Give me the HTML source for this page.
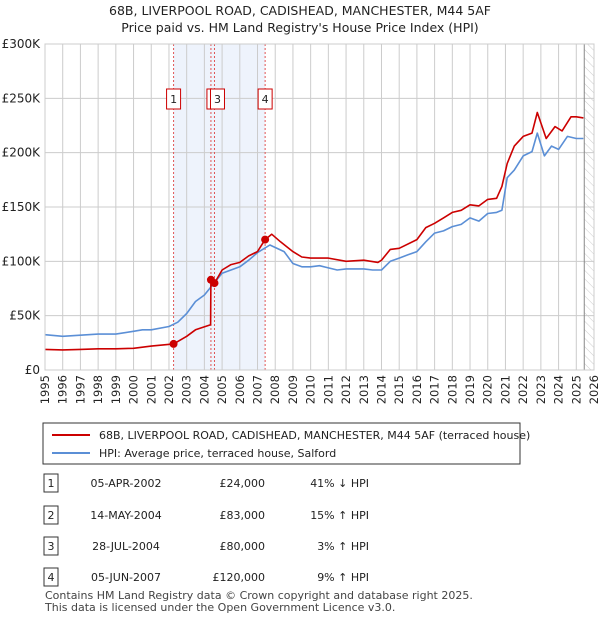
<!DOCTYPE html>
<html><head><meta charset="utf-8"><style>
body{margin:0;background:#fff;font-family:"Liberation Sans","DejaVu Sans",sans-serif;}
svg text{font-family:"DejaVu Sans","Liberation Sans",sans-serif;}
</style></head><body>
<svg id="c" width="600" height="620" xmlns="http://www.w3.org/2000/svg">
<defs><pattern id="hatch" width="6" height="6" patternUnits="userSpaceOnUse" patternTransform="rotate(-45)"><line x1="0" y1="0" x2="0" y2="6" stroke="#ccc" stroke-width="1"/></pattern></defs>
<text x="300" y="15" text-anchor="middle" font-size="12.5" fill="#222">68B, LIVERPOOL ROAD, CADISHEAD, MANCHESTER, M44 5AF</text>
<text x="300" y="32" text-anchor="middle" font-size="12.5" fill="#222">Price paid vs. HM Land Registry's House Price Index (HPI)</text>
<g id="plot"></g>
<g>
<rect x="43" y="423" width="477" height="41" fill="#fff" stroke="#333" stroke-width="1"/>
<line x1="52" y1="435" x2="90" y2="435" stroke="#cc0000" stroke-width="2"/>
<text x="99" y="439" font-size="11" fill="#222">68B, LIVERPOOL ROAD, CADISHEAD, MANCHESTER, M44 5AF (terraced house)</text>
<line x1="52" y1="453" x2="90" y2="453" stroke="#5b8fd6" stroke-width="2"/>
<text x="99" y="457" font-size="11" fill="#222">HPI: Average price, terraced house, Salford</text>
</g>
<g id="table" font-size="11" fill="#222"></g>
<text x="45" y="599" font-size="11" fill="#444">Contains HM Land Registry data © Crown copyright and database right 2025.</text>
<text x="45" y="611" font-size="11" fill="#444">This data is licensed under the Open Government Licence v3.0.</text>
</svg>
<script>
const hpiYears=[1995,1996,1997,1998,1999,2000,2000.5,2001,2002,2002.5,2003,2003.5,2004,2004.4,2005,2005.5,2006,2006.5,2007,2007.7,2008.5,2009,2009.5,2010,2010.5,2011,2011.5,2012,2013,2013.5,2014,2014.5,2015,2015.5,2016,2016.5,2017,2017.5,2018,2018.5,2019,2019.5,2020,2020.5,2020.8,2021.1,2021.5,2022,2022.5,2022.8,2023.2,2023.6,2024,2024.5,2025,2025.4];
const hpiValues=[32.5,31,32,33,33,35.6,37,37,40,44,52,63,69,77,89,92,95,101,108,115,109,98,95,95,96,94,92,93,93,92,92,100,103,106,109,118,126,128,132,134,140,137,144,145,147,177,184,197,201,218,197,206,203,215,213,213];
const redYears=[1995,1996,1997,1998,1999,2000,2001,2002.26,2003,2003.5,2004.35,2004.37,2004.57,2005,2005.5,2006,2006.5,2007,2007.43,2007.8,2008.3,2009,2009.5,2010,2011,2012,2013,2013.8,2014,2014.5,2015,2016,2016.5,2017,2017.5,2018,2018.5,2019,2019.5,2020,2020.5,2020.8,2021.1,2021.5,2022,2022.5,2022.8,2023.3,2023.8,2024.2,2024.7,2025,2025.4];
const redValues=[19,18.5,19,19.5,19.5,20,22,24,31,37,41.7,83,80,92,97,99,105,109,120,125,118,109,104,103,103,100,101,99,101,111,112,120,131,135,140,145,147,152,151,157,158,169,190,206,215,218,237,213,224,220,233,233,232];
const saleIds=["1","2","3","4"];
const saleYears=[2002.26,2004.37,2004.57,2007.43];
const saleValues=[24,83,80,120];
const saleDates=["05-APR-2002","14-MAY-2004","28-JUL-2004","05-JUN-2007"];
const salePrices=["£24,000","£83,000","£80,000","£120,000"];
const saleHpi=["41% ↓ HPI","15% ↑ HPI","3% ↑ HPI","9% ↑ HPI"];
const yTicks=[0,50,100,150,200,250,300];
const yTickLabels=["£0","£50K","£100K","£150K","£200K","£250K","£300K"];
const xTicks=[];for(let y=1995;y<=2026;y++)xTicks.push(y);

const X0=45,X1=594,Y0=370,Y1=44;
const xs=y=>X0+(y-1995)/(2026-1995)*(X1-X0);
const ys=v=>Y0-v/300*(Y0-Y1);
const NS="http://www.w3.org/2000/svg";
const plot=document.getElementById('plot');
function mk(tag,attrs,parent){const e=document.createElementNS(NS,tag);for(const k in attrs)e.setAttribute(k,attrs[k]);(parent||plot).appendChild(e);return e;}

let r=mk('rect',{x:xs(saleYears[0]),y:Y1,width:xs(saleYears[3])-xs(saleYears[0]),height:Y0-Y1,fill:'#eef3fc'});


r=mk('rect',{x:xs(2025.45),y:Y1,width:X1-xs(2025.45),height:Y0-Y1,fill:'url(#hatch)'});


xTicks.forEach(t=>{
 let l=mk('line',{x1:xs(t),x2:xs(t),y1:Y1,y2:Y0,stroke:'#ccc','stroke-width':1});
 
 
 let tx=mk('text',{x:0,y:0,'font-size':11.5,fill:'#222','text-anchor':'end',transform:`translate(${xs(t)+4},375) rotate(-90)`});
 tx.textContent=t;
 
 
});
yTicks.forEach((t,i)=>{
 let l=mk('line',{x1:X0,x2:X1,y1:ys(t),y2:ys(t),stroke:'#ccc','stroke-width':1});
 
 
 let tx=mk('text',{x:40,y:ys(t)+4,'font-size':12,fill:'#222','text-anchor':'end'});
 tx.textContent=yTickLabels[i];
 
 
});
let vl=mk('line',{x1:xs(2025.45),x2:xs(2025.45),y1:Y1,y2:Y0,stroke:'#888','stroke-width':1});


saleYears.forEach((s,i)=>{
 let l=mk('line',{x1:xs(s),x2:xs(s),y1:Y1,y2:Y0,stroke:'#e05555','stroke-width':1,'stroke-dasharray':'2,2'});
 
 
});
function path(xa,va,col,name){
 const d=xa.map((x,i)=>(i?'L':'M')+xs(x).toFixed(1)+','+ys(va[i]).toFixed(1)).join('');
 const p=mk('path',{d:d,fill:'none',stroke:col,'stroke-width':1.6,'stroke-linejoin':'round'});
 
 
}
path(hpiYears,hpiValues,'#5b8fd6','hpi-line');
path(redYears,redValues,'#cc0000','price-paid-line');
saleYears.forEach((s,i)=>{
 let c=mk('circle',{cx:xs(s),cy:ys(saleValues[i]),r:4,fill:'#cc0000'});
 
 
});
const boxX=[xs(saleYears[0])-7,xs(saleYears[1])-4,xs(saleYears[2])-4,xs(saleYears[3])-7];
saleIds.forEach((id,i)=>{
 let g=mk('g',{});
 
 
 mk('rect',{x:boxX[i]-(i==2?0:0),y:89,width:14,height:20,fill:'#fff',stroke:'#cc0000','stroke-width':1},g);
 let t=mk('text',{x:boxX[i]+7,y:103,'font-size':11,'text-anchor':'middle',fill:'#222'},g);t.textContent=id;
});
let ax=mk('rect',{x:X0,y:Y1,width:X1-X0,height:Y0-Y1,fill:'none',stroke:'#ccc'});



const tb=document.getElementById('table');
const rowY=[483,515,546,577];
saleIds.forEach((id,i)=>{
 let g=mk('g',{},tb);
 
 
 mk('rect',{x:44,y:rowY[i]-9,width:14,height:18,fill:'#fff',stroke:'#333'},g);
 let t=mk('text',{x:51,y:rowY[i]+4,'text-anchor':'middle'},g);t.textContent=id;
 t=mk('text',{x:126,y:rowY[i]+4,'text-anchor':'middle'},g);t.textContent=saleDates[i];
 t=mk('text',{x:265,y:rowY[i]+4,'text-anchor':'end'},g);t.textContent=salePrices[i];
 t=mk('text',{x:369,y:rowY[i]+4,'text-anchor':'end'},g);t.textContent=saleHpi[i];
});
</script>
</body></html>
